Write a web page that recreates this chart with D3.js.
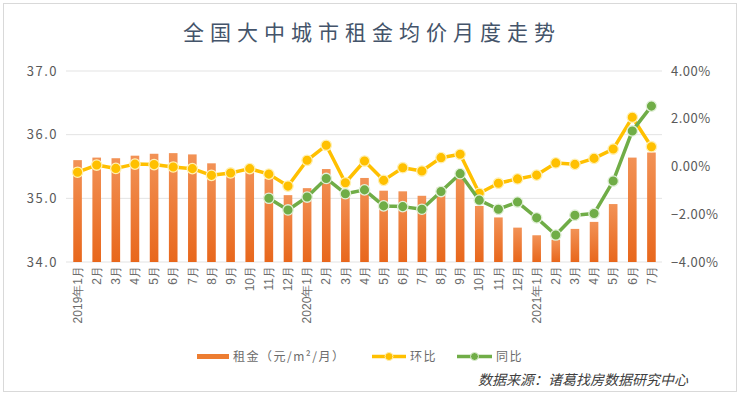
<!DOCTYPE html>
<html><head><meta charset="utf-8">
<script src="https://cdn.jsdelivr.net/npm/d3@7"></script>
<style>
html,body{margin:0;padding:0;background:#fff;}
svg{display:block;font-family:"Noto Sans CJK SC","Noto Sans",sans-serif;}
</style></head><body>
<svg id="c" width="740" height="399"></svg>
<script>
const months = ["2019年1月","2月","3月","4月","5月","6月","7月","8月","9月","10月","11月","12月",
"2020年1月","2月","3月","4月","5月","6月","7月","8月","9月","10月","11月","12月",
"2021年1月","2月","3月","4月","5月","6月","7月"];
const rent = [35.60,35.64,35.63,35.67,35.70,35.71,35.69,35.55,35.45,35.48,35.31,35.05,
35.16,35.46,35.10,35.32,35.12,35.11,35.04,35.17,35.37,34.88,34.70,34.54,
34.42,34.35,34.52,34.63,34.91,35.64,35.72];
const mom = [-0.24,0.06,-0.08,0.10,0.08,-0.02,-0.09,-0.37,-0.27,-0.09,-0.32,-0.82,
0.26,0.89,-0.68,0.23,-0.58,-0.05,-0.19,0.37,0.51,-1.12,-0.70,-0.52,
-0.36,0.15,0.09,0.34,0.73,2.06,0.83];
const yoy = [null,null,null,null,null,null,null,null,null,null,-1.33,-1.82,
-1.28,-0.50,-1.14,-0.98,-1.65,-1.68,-1.79,-1.05,-0.30,-1.41,-1.79,-1.49,
-2.15,-2.87,-2.04,-1.97,-0.61,1.49,2.53];
const leftTicks = [34,35,36,37];
const rightTicks = [-4,-2,0,2,4];

const svg = d3.select("#c");
svg.append("rect").attr("x",3.5).attr("y",3.5).attr("width",733).attr("height",388)
  .attr("fill","#fff").attr("stroke","#d9d9d9");

const x = d3.scaleBand().domain(d3.range(months.length)).range([68,661]).paddingInner(0.55).paddingOuter(0.275);
const yL = d3.scaleLinear().domain([34,37]).range([262,71]);
const yR = d3.scaleLinear().domain([-4,4]).range([262,71]);
const cx = i => x(i) + x.bandwidth()/2;

const defs = svg.append("defs");
const g = defs.append("linearGradient").attr("id","bg").attr("x1",0).attr("x2",0).attr("y1",0).attr("y2",1);
g.append("stop").attr("offset","0%").attr("stop-color","#f29256");
g.append("stop").attr("offset","100%").attr("stop-color","#e8671c");

// title
svg.append("text").attr("x",372).attr("y",40).attr("text-anchor","middle")
  .attr("font-size",21).attr("letter-spacing",6).attr("fill","#44546a").attr("font-weight",400)
  .text("全国大中城市租金均价月度走势");

// grid
svg.append("g").selectAll("line").data(leftTicks).join("line")
  .attr("x1",66).attr("x2",662).attr("y1",d=>yL(d)).attr("y2",d=>yL(d))
  .attr("stroke","#e3e3e3").attr("stroke-width",1);

// left axis
const la = svg.append("g").attr("transform","translate(58,0)")
  .call(d3.axisLeft(yL).tickValues(leftTicks).tickFormat(d3.format(".1f")).tickSize(0).tickPadding(0));
la.select(".domain").remove();
la.selectAll("text").attr("font-size",13).attr("fill","#595959").attr("letter-spacing",1.5)
  .attr("font-family","'Noto Sans CJK SC',sans-serif");

// right axis
const ra = svg.append("g").attr("transform","translate(671,0)")
  .call(d3.axisRight(yR).tickValues(rightTicks).tickFormat(d=>d3.format(".2f")(d)+"%").tickSize(0).tickPadding(0));
ra.select(".domain").remove();
ra.selectAll("text").attr("font-size",13).attr("fill","#595959").attr("letter-spacing",0.5)
  .attr("font-family","'Noto Sans CJK SC',sans-serif");

// bars
svg.append("g").selectAll("rect").data(rent).join("rect")
  .attr("x",(d,i)=>x(i)).attr("width",x.bandwidth())
  .attr("y",d=>yL(d)).attr("height",d=>yL(34)-yL(d))
  .attr("fill","url(#bg)");

// x labels
const xa = svg.append("g").attr("transform","translate(0,263)")
  .call(d3.axisBottom(x).tickFormat(i=>months[i]).tickSize(0).tickPadding(0));
xa.select(".domain").remove();
xa.selectAll("text").attr("font-size",12).attr("fill","#6b6b6b")
  .attr("transform","rotate(-90)").attr("text-anchor","end").attr("dy","0.35em").attr("x",-3).attr("y",0);

// lines
function series(data,color,stroke){
  const line = d3.line().defined(d=>d!=null).x((d,i)=>cx(i)).y(d=>yR(d));
  svg.append("path").datum(data).attr("d",line).attr("fill","none")
    .attr("stroke",color).attr("stroke-width",3.5).attr("stroke-linejoin","round");
  svg.append("g").selectAll("circle").data(data.map((d,i)=>({d,i})).filter(o=>o.d!=null)).join("circle")
    .attr("cx",o=>cx(o.i)).attr("cy",o=>yR(o.d)).attr("r",5.2)
    .attr("fill",color).attr("stroke",stroke).attr("stroke-width",1.3);
}
series(mom,"#ffc000","#fff0b3");
series(yoy,"#70ad47","#e2f0d9");

// legend
const lg = svg.append("g");
lg.append("rect").attr("x",197).attr("y",354).attr("width",32).attr("height",5).attr("fill","#ed7d31");
lg.append("text").attr("x",233).attr("y",361).attr("font-size",12).attr("fill","#6b6b6b").attr("letter-spacing",1.5).text("租金（元/m²/月）");
lg.append("line").attr("x1",372).attr("x2",406).attr("y1",356.5).attr("y2",356.5).attr("stroke","#ffc000").attr("stroke-width",3.5);
lg.append("circle").attr("cx",389).attr("cy",356.5).attr("r",4).attr("fill","#ffc000").attr("stroke","#fff0b3");
lg.append("text").attr("x",410).attr("y",361).attr("font-size",12).attr("fill","#6b6b6b").attr("letter-spacing",1.5).text("环比");
lg.append("line").attr("x1",457).attr("x2",492).attr("y1",356.5).attr("y2",356.5).attr("stroke","#70ad47").attr("stroke-width",3.5);
lg.append("circle").attr("cx",474.5).attr("cy",356.5).attr("r",4).attr("fill","#70ad47").attr("stroke","#e2f0d9");
lg.append("text").attr("x",496).attr("y",361).attr("font-size",12).attr("fill","#6b6b6b").attr("letter-spacing",1.5).text("同比");

// source
svg.append("text").attr("x",688).attr("y",385).attr("text-anchor","end")
  .attr("font-size",14).attr("font-style","italic").attr("fill","#404040")
  .text("数据来源：诸葛找房数据研究中心");
</script>
</body></html>
